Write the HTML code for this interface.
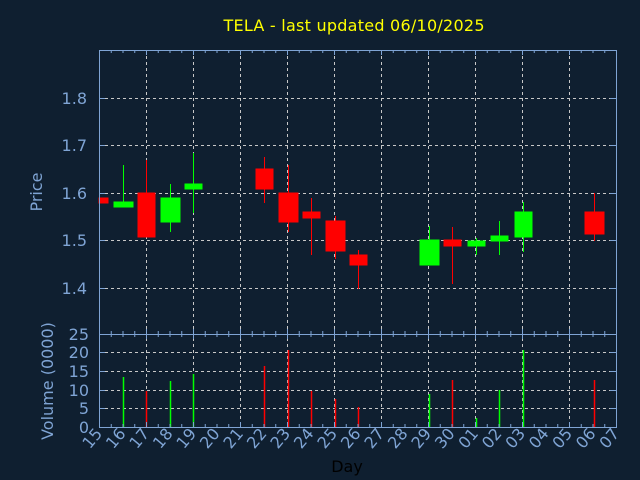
<!DOCTYPE html>
<html><head><meta charset="utf-8"><style>
html,body{margin:0;padding:0;background:#0f1f30;}
svg{display:block;font-family:"DejaVu Sans","Liberation Sans",sans-serif;}
</style></head><body>
<svg width="640" height="480" viewBox="0 0 640 480" xmlns="http://www.w3.org/2000/svg">
<rect width="640" height="480" fill="#0f1f30"/>
<text x="354" y="31" fill="#ffff00" font-size="16" text-anchor="middle" textLength="261">TELA - last updated 06/10/2025</text>
<g stroke="#c8c8c8" stroke-width="1" stroke-dasharray="3,3">
<path d="M146.5 50V427M193.5 50V427M240.5 50V427M287.5 50V427M334.5 50V427M381.5 50V427M428.5 50V427M475.5 50V427M522.5 50V427M569.5 50V427"/>
<path d="M99 98.5H616M99 145.5H616M99 193.5H616M99 240.5H616M99 288.5H616"/>
<path d="M99 352.5H616M99 371.5H616M99 390.5H616M99 408.5H616"/>
</g>
<g fill="#ff0000" stroke="#ff0000">
<rect x="99" y="198" width="9" height="5"/>
<line x1="146.5" y1="160" x2="146.5" y2="237"/><rect x="138" y="193" width="17" height="44"/>
<line x1="264.5" y1="157" x2="264.5" y2="203"/><rect x="256" y="169" width="17" height="20"/>
<line x1="288.5" y1="165" x2="288.5" y2="232"/><rect x="279" y="193" width="19" height="29"/>
<line x1="311.5" y1="198" x2="311.5" y2="255"/><rect x="303" y="212" width="17" height="6"/>
<line x1="335.5" y1="216" x2="335.5" y2="259"/><rect x="326" y="221" width="19" height="30"/>
<line x1="358.5" y1="250" x2="358.5" y2="289"/><rect x="350" y="255" width="17" height="10"/>
<line x1="452.5" y1="227" x2="452.5" y2="284"/><rect x="444" y="240" width="17" height="6"/>
<line x1="594.5" y1="193" x2="594.5" y2="241"/><rect x="585" y="212" width="19" height="22"/>
</g>
<g fill="#00ff00" stroke="#00ff00">
<line x1="123.5" y1="165" x2="123.5" y2="207"/><rect x="114" y="202" width="19" height="5"/>
<line x1="170.5" y1="184" x2="170.5" y2="232"/><rect x="161" y="198" width="19" height="24"/>
<line x1="193.5" y1="153" x2="193.5" y2="213"/><rect x="185" y="184" width="17" height="5"/>
<line x1="429.5" y1="226" x2="429.5" y2="265"/><rect x="420" y="240" width="19" height="25"/>
<line x1="476.5" y1="238" x2="476.5" y2="255"/><rect x="468" y="241" width="17" height="5"/>
<line x1="499.5" y1="221" x2="499.5" y2="255"/><rect x="491" y="236" width="17" height="5"/>
<line x1="523.5" y1="202" x2="523.5" y2="252"/><rect x="515" y="212" width="17" height="25"/>
</g>
<g stroke-width="1.5">
<line x1="123.5" y1="427" x2="123.5" y2="377" stroke="#00ff00"/>
<line x1="146.5" y1="427" x2="146.5" y2="391" stroke="#ff0000"/>
<line x1="170.5" y1="427" x2="170.5" y2="381" stroke="#00ff00"/>
<line x1="193.5" y1="427" x2="193.5" y2="374" stroke="#00ff00"/>
<line x1="264.5" y1="427" x2="264.5" y2="366" stroke="#ff0000"/>
<line x1="288.5" y1="427" x2="288.5" y2="350" stroke="#ff0000"/>
<line x1="311.5" y1="427" x2="311.5" y2="391" stroke="#ff0000"/>
<line x1="335.5" y1="427" x2="335.5" y2="399" stroke="#ff0000"/>
<line x1="358.5" y1="427" x2="358.5" y2="407" stroke="#ff0000"/>
<line x1="429.5" y1="427" x2="429.5" y2="394" stroke="#00ff00"/>
<line x1="452.5" y1="427" x2="452.5" y2="380" stroke="#ff0000"/>
<line x1="476.5" y1="427" x2="476.5" y2="418" stroke="#00ff00"/>
<line x1="499.5" y1="427" x2="499.5" y2="390" stroke="#00ff00"/>
<line x1="523.5" y1="427" x2="523.5" y2="350" stroke="#00ff00"/>
<line x1="594.5" y1="427" x2="594.5" y2="380" stroke="#ff0000"/>
</g>
<g stroke="#7fa4d4" fill="none" stroke-width="1">
<rect x="99.5" y="50.5" width="517" height="377"/>
<line x1="99" y1="334.5" x2="616" y2="334.5"/>
<path d="M99 98.5h6M99 145.5h6M99 193.5h6M99 240.5h6M99 288.5h6M610 98.5h6M610 145.5h6M610 193.5h6M610 240.5h6M610 288.5h6"/>
<path d="M99 352.5h6M99 371.5h6M99 390.5h6M99 408.5h6M610 352.5h6M610 371.5h6M610 390.5h6M610 408.5h6"/>
<path id="tk" d="M111.25 50v3M123 50v3M134.75 50v3M146.5 50v5M158.25 50v3M170 50v3M181.75 50v3M193.5 50v5M205.25 50v3M217 50v3M228.75 50v3M240.5 50v5M252.25 50v3M264 50v3M275.75 50v3M287.5 50v5M299.25 50v3M311 50v3M322.75 50v3M334.5 50v5M346.25 50v3M358 50v3M369.75 50v3M381.5 50v5M393.25 50v3M405 50v3M416.75 50v3M428.5 50v5M440.25 50v3M452 50v3M463.75 50v3M475.5 50v5M487.25 50v3M499 50v3M510.75 50v3M522.5 50v5M534.25 50v3M546 50v3M557.75 50v3M569.5 50v5M581.25 50v3M593 50v3M604.75 50v3"/>
<use href="#tk" transform="translate(0,284)"/>
<use href="#tk" transform="translate(0,384) scale(1,-1)"/>
<use href="#tk" transform="translate(0,477) scale(1,-1)"/>
</g>
<g fill="#7fa4d4" font-size="16" text-anchor="end">
<text x="87" y="104">1.8</text><text x="87" y="151">1.7</text><text x="87" y="199">1.6</text><text x="87" y="246">1.5</text><text x="87" y="294">1.4</text>
<text x="89" y="340">25</text><text x="89" y="358">20</text><text x="89" y="377">15</text><text x="89" y="396">10</text><text x="89" y="414">5</text><text x="89" y="433">0</text>
</g>
<text transform="translate(42,192) rotate(-90)" fill="#7fa4d4" font-size="16" text-anchor="middle">Price</text>
<text transform="translate(53,381) rotate(-90)" fill="#7fa4d4" font-size="16" text-anchor="middle">Volume (0000)</text>
<g fill="#7fa4d4" font-size="16" text-anchor="end">
<text transform="translate(103,434) rotate(-50)">15</text>
<text transform="translate(126.5,434) rotate(-50)">16</text>
<text transform="translate(150,434) rotate(-50)">17</text>
<text transform="translate(173.5,434) rotate(-50)">18</text>
<text transform="translate(197,434) rotate(-50)">19</text>
<text transform="translate(220.5,434) rotate(-50)">20</text>
<text transform="translate(244,434) rotate(-50)">21</text>
<text transform="translate(267.5,434) rotate(-50)">22</text>
<text transform="translate(291,434) rotate(-50)">23</text>
<text transform="translate(314.5,434) rotate(-50)">24</text>
<text transform="translate(338,434) rotate(-50)">25</text>
<text transform="translate(361.5,434) rotate(-50)">26</text>
<text transform="translate(385,434) rotate(-50)">27</text>
<text transform="translate(408.5,434) rotate(-50)">28</text>
<text transform="translate(432,434) rotate(-50)">29</text>
<text transform="translate(455.5,434) rotate(-50)">30</text>
<text transform="translate(479,434) rotate(-50)">01</text>
<text transform="translate(502.5,434) rotate(-50)">02</text>
<text transform="translate(526,434) rotate(-50)">03</text>
<text transform="translate(549.5,434) rotate(-50)">04</text>
<text transform="translate(573,434) rotate(-50)">05</text>
<text transform="translate(596.5,434) rotate(-50)">06</text>
<text transform="translate(620,434) rotate(-50)">07</text>
</g>
<text x="347" y="472" fill="#000000" font-size="16" text-anchor="middle">Day</text>
</svg>
</body></html>
